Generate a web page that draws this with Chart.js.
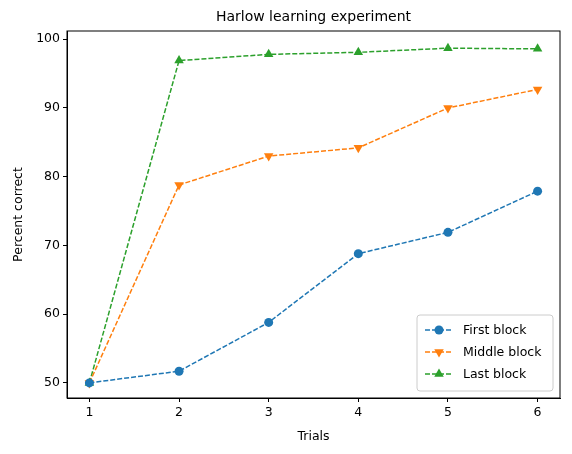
<!DOCTYPE html>
<html>
<head>
<meta charset="utf-8">
<script src="https://cdn.jsdelivr.net/npm/chart.js@4/dist/chart.umd.min.js"></script>
<style>
  html, body { margin: 0; padding: 0; background: #fff; }
  #wrap { width: 572px; height: 454px; }
</style>
</head>
<body>
<div id="wrap"><canvas id="chart" width="572" height="454"></canvas></div>
<script>
const trials = [1, 2, 3, 4, 5, 6]
const firstBlock = [50.0, 51.7, 58.8, 68.8, 71.9, 77.9]
const middleBlock = [50.0, 78.8, 83.0, 84.2, 90.0, 92.7]
const lastBlock = [50.0, 96.9, 97.8, 98.1, 98.7, 98.6]
const yTicks = [50, 60, 70, 80, 90, 100]

const font = 'DejaVu Sans'
Chart.defaults.font.family = font
Chart.defaults.color = '#000'

const toPoints = values => values.map((v, i) => ({ x: trials[i], y: v }))

const series = [
  { label: 'First block', data: firstBlock, color: '#1f77b4', style: 'circle', rotation: 0, radius: 4.5 },
  { label: 'Middle block', data: middleBlock, color: '#ff7f0e', style: 'triangle', rotation: 180, radius: 5.5 },
  { label: 'Last block', data: lastBlock, color: '#2ca02c', style: 'triangle', rotation: 0, radius: 5.5 }
]

// frame, title and an inside legend like matplotlib
const extras = {
  id: 'extras',
  afterDraw(chart) {
    const { ctx, chartArea: a } = chart
    ctx.save()
    ctx.strokeStyle = '#000'
    ctx.lineWidth = 1
    ctx.strokeRect(a.left, a.top, a.right - a.left, a.bottom - a.top)

    ctx.fillStyle = '#000'
    ctx.font = '14px ' + font
    ctx.textAlign = 'center'
    ctx.textBaseline = 'middle'
    ctx.fillText('Harlow learning experiment', (a.left + a.right) / 2, 17)

    const w = 136, h = 76
    const x0 = a.right - w - 7, y0 = a.bottom - h - 7
    ctx.fillStyle = 'rgba(255,255,255,0.8)'
    ctx.strokeStyle = '#ccc'
    ctx.beginPath()
    ctx.roundRect(x0, y0, w, h, 3)
    ctx.fill()
    ctx.stroke()
    ctx.font = '12.5px ' + font
    ctx.textAlign = 'left'
    chart.data.datasets.forEach((ds, i) => {
      const y = y0 + 15 + i * 22
      ctx.strokeStyle = ds.borderColor
      ctx.lineWidth = 1.5
      ctx.setLineDash([5, 2])
      ctx.beginPath()
      ctx.moveTo(x0 + 8, y)
      ctx.lineTo(x0 + 36, y)
      ctx.stroke()
      ctx.setLineDash([])
      ctx.fillStyle = ds.borderColor
      Chart.helpers.drawPoint(ctx, { pointStyle: ds.pointStyle, rotation: ds.pointRotation, radius: ds.pointRadius, borderWidth: 0 }, x0 + 22, y)
      ctx.fillStyle = '#000'
      ctx.fillText(ds.label, x0 + 46, y + 1)
    })
    ctx.restore()
  }
}

new Chart(document.getElementById('chart').getContext('2d'), {
  type: 'line',
  data: {
    datasets: series.map(s => ({
      label: s.label,
      data: toPoints(s.data),
      borderColor: s.color,
      backgroundColor: s.color,
      borderWidth: 1.5,
      borderDash: [5, 2],
      pointStyle: s.style,
      pointRotation: s.rotation,
      pointRadius: s.radius,
      pointBorderWidth: 0,
      fill: false
    }))
  },
  options: {
    responsive: false,
    animation: false,
    layout: { padding: { left: 7, right: 12, top: 31, bottom: 6 } },
    plugins: { legend: { display: false }, tooltip: { enabled: false } },
    scales: {
      x: {
        type: 'linear',
        min: 0.75,
        max: 6.25,
        afterBuildTicks: axis => { axis.ticks = trials.map(v => ({ value: v })) },
        afterFit: axis => { axis.height = 50 },
        grid: { drawOnChartArea: false, drawTicks: true, tickLength: 4, color: '#000' },
        border: { color: '#000' },
        ticks: { font: { size: 12.5 }, padding: 3 },
        title: { display: true, text: 'Trials', font: { size: 12.5 }, padding: { top: 2 } }
      },
      y: {
        min: 47.8,
        max: 101.2,
        afterBuildTicks: axis => { axis.ticks = yTicks.map(v => ({ value: v })) },
        afterFit: axis => { axis.width = 60 },
        grid: { drawOnChartArea: false, drawTicks: true, tickLength: 4, color: '#000' },
        border: { color: '#000' },
        ticks: { font: { size: 12.5 }, padding: 3 },
        title: { display: true, text: 'Percent correct', font: { size: 12.5 }, padding: { bottom: 4 } }
      }
    }
  },
  plugins: [extras]
})
</script>
</body>
</html>
